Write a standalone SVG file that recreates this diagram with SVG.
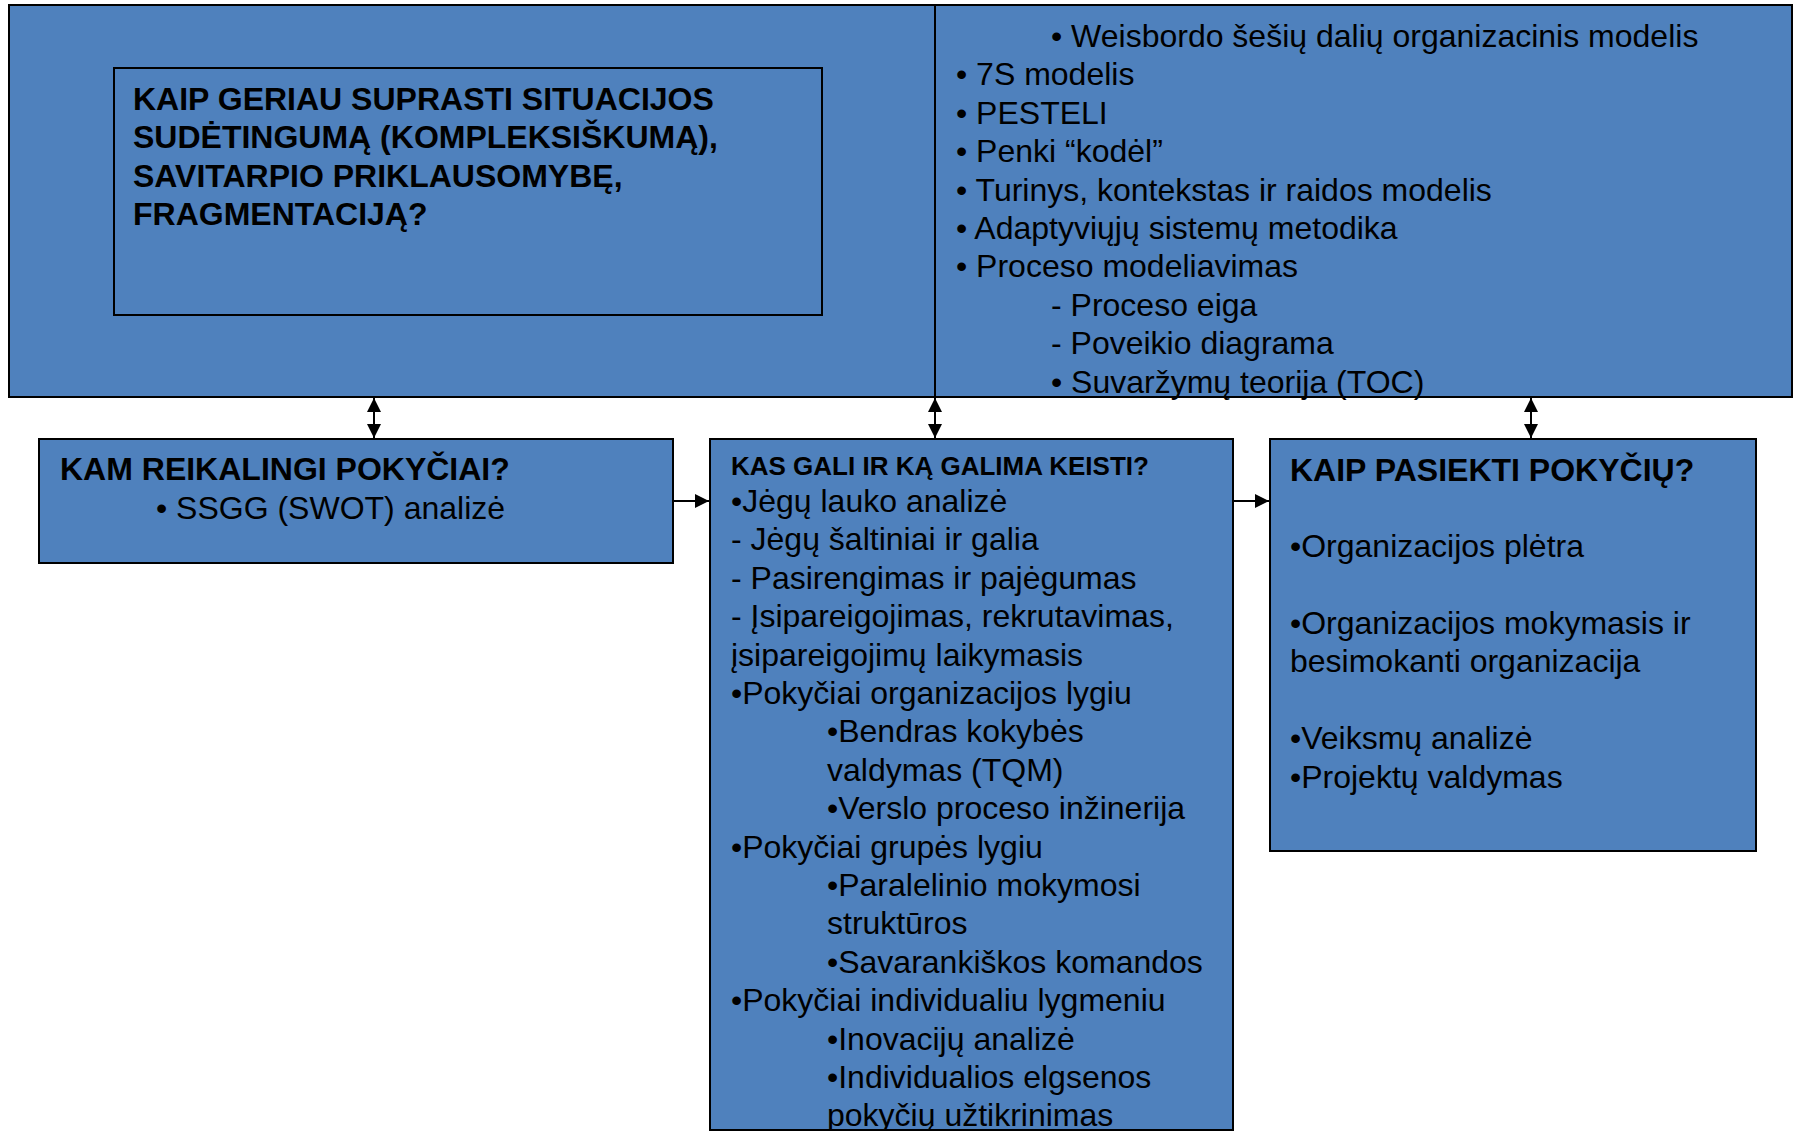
<svg xmlns="http://www.w3.org/2000/svg" width="1794" height="1131" viewBox="0 0 1794 1131">
<style>
.box{fill:#4F81BD;stroke:#000;stroke-width:2}
.inner{fill:none;stroke:#000;stroke-width:2}
text{font-family:"Liberation Sans",Arial,sans-serif;font-size:32px;fill:#000}
.b{font-weight:bold}
.s{font-size:26px}
.conn{stroke:#000;stroke-width:2;fill:none}
</style>
<defs>
<marker id="ah" markerUnits="userSpaceOnUse" markerWidth="16" markerHeight="16" viewBox="0 0 16 16" refX="15" refY="8" orient="auto-start-reverse">
<path d="M1,1 L15,8 L1,15 Z" fill="#000"/>
</marker>
</defs>
<rect width="1794" height="1131" fill="#fff"/>
<g id="top-left">
<rect class="box" x="9" y="5" width="926" height="392"/>
<rect class="inner" x="114" y="68" width="708" height="247"/>
<text class="b" x="133" y="110">KAIP GERIAU SUPRASTI SITUACIJOS</text>
<text class="b" x="133" y="148.4">SUDĖTINGUMĄ (KOMPLEKSIŠKUMĄ),</text>
<text class="b" x="133" y="186.8">SAVITARPIO PRIKLAUSOMYBĘ,</text>
<text class="b" x="133" y="225.2">FRAGMENTACIJĄ?</text>
</g>
<g id="top-right">
<rect class="box" x="935" y="5" width="857" height="392"/>
<text x="1051" y="47">• Weisbordo šešių dalių organizacinis modelis</text>
<text x="956" y="85.4">• 7S modelis</text>
<text x="956" y="123.8">• PESTELI</text>
<text x="956" y="162.2">• Penki “kodėl”</text>
<text x="956" y="200.6">• Turinys, kontekstas ir raidos modelis</text>
<text x="956" y="239">• Adaptyviųjų sistemų metodika</text>
<text x="956" y="277.4">• Proceso modeliavimas</text>
<text x="1051" y="315.8">- Proceso eiga</text>
<text x="1051" y="354.2">- Poveikio diagrama</text>
<text x="1051" y="392.6">• Suvaržymų teorija (TOC)</text>
</g>
<g id="kam">
<rect class="box" x="39" y="439" width="634" height="124"/>
<text class="b" x="60" y="480">KAM REIKALINGI POKYČIAI?</text>
<text x="156" y="519">• SSGG (SWOT) analizė</text>
</g>
<g id="kas">
<rect class="box" x="710" y="439" width="523" height="691"/>
<text class="b s" x="731" y="475">KAS GALI IR KĄ GALIMA KEISTI?</text>
<text x="731" y="512">•Jėgų lauko analizė</text>
<text x="731" y="550.4">- Jėgų šaltiniai ir galia</text>
<text x="731" y="588.8">- Pasirengimas ir pajėgumas</text>
<text x="731" y="627.2">- Įsipareigojimas, rekrutavimas,</text>
<text x="731" y="665.6">įsipareigojimų laikymasis</text>
<text x="731" y="704">•Pokyčiai organizacijos lygiu</text>
<text x="827" y="742.4">•Bendras kokybės</text>
<text x="827" y="780.8">valdymas (TQM)</text>
<text x="827" y="819.2">•Verslo proceso inžinerija</text>
<text x="731" y="857.6">•Pokyčiai grupės lygiu</text>
<text x="827" y="896">•Paralelinio mokymosi</text>
<text x="827" y="934.4">struktūros</text>
<text x="827" y="972.8">•Savarankiškos komandos</text>
<text x="731" y="1011.2">•Pokyčiai individualiu lygmeniu</text>
<text x="827" y="1049.6">•Inovacijų analizė</text>
<text x="827" y="1088">•Individualios elgsenos</text>
<text x="827" y="1126.4">pokyčių užtikrinimas</text>
</g>
<g id="kaip">
<rect class="box" x="1270" y="439" width="486" height="412"/>
<text class="b" x="1290" y="481">KAIP PASIEKTI POKYČIŲ?</text>
<text x="1290" y="557">•Organizacijos plėtra</text>
<text x="1290" y="634">•Organizacijos mokymasis ir</text>
<text x="1290" y="672">besimokanti organizacija</text>
<text x="1290" y="749">•Veiksmų analizė</text>
<text x="1290" y="788">•Projektų valdymas</text>
</g>
<g id="connectors">
<line class="conn" x1="374" y1="398" x2="374" y2="438" marker-start="url(#ah)" marker-end="url(#ah)"/>
<line class="conn" x1="935" y1="398" x2="935" y2="438" marker-start="url(#ah)" marker-end="url(#ah)"/>
<line class="conn" x1="1531" y1="398" x2="1531" y2="438" marker-start="url(#ah)" marker-end="url(#ah)"/>
<line class="conn" x1="674" y1="501" x2="709" y2="501" marker-end="url(#ah)"/>
<line class="conn" x1="1234" y1="501" x2="1269" y2="501" marker-end="url(#ah)"/>
</g>
</svg>
